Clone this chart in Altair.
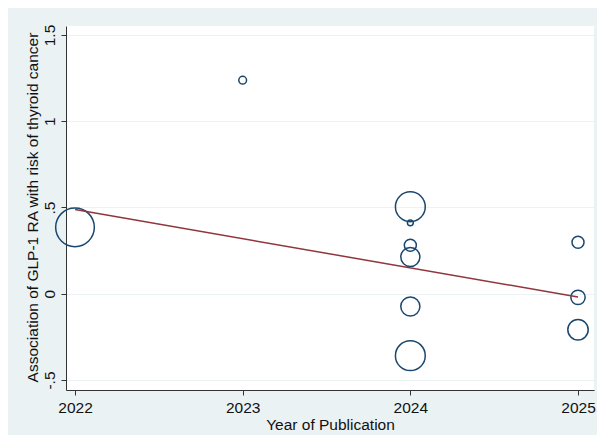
import altair as alt
import pandas as pd

# ---- data ----
years = [2022, 2023, 2024, 2024, 2024, 2024, 2024, 2024, 2025, 2025, 2025]
effects = [0.385, 1.238, 0.504, 0.411, 0.281, 0.213, -0.074, -0.359, 0.298, -0.021, -0.209]
weights = [29.9, 1.2, 17.8, 0.7, 2.9, 7.3, 7.3, 17.8, 2.9, 4.1, 8.3]

fit_years = [2022, 2025]
fit_values = [0.488, -0.019]

x_ticks = [2022, 2023, 2024, 2025]
y_ticks = [-0.5, 0, 0.5, 1, 1.5]
y_tick_labels = ["-.5", "0", ".5", "1", "1.5"]

x_title = "Year of Publication"
y_title = "Association of GLP-1 RA with risk of thyroid cancer"

pts = pd.DataFrame({"year": years, "effect": effects, "weight": weights})
fit = pd.DataFrame({"year": fit_years, "effect": fit_values})

FONT = "Liberation Sans"
FS = 15.5
NAVY = "#1A476F"
MAROON = "#90353B"
BG = "#EAF2F3"
AX = "#333333"

y_label_expr = " : ".join(
    [f"datum.value == {v} ? '{l}'" for v, l in zip(y_ticks, y_tick_labels)]
) + " : datum.label"

x_scale = alt.Scale(domain=[2021.9463, 2025.0954], nice=False, zero=False)
y_scale = alt.Scale(domain=[-0.558, 1.552], nice=False, zero=False)

x_axis = alt.Axis(
    values=x_ticks, format="d", title=x_title, grid=False,
    domainColor=AX, tickColor=AX, tickSize=5, labelPadding=5,
    labelFont=FONT, labelFontSize=FS, labelColor="#111111",
    titleFont=FONT, titleFontSize=FS, titleFontWeight="normal", titleColor="#111111",
    titleX=264, titleY=39, titleBaseline="alphabetic", titleAlign="center",
    labelFlush=False, labelOverlap=False,
)
y_axis = alt.Axis(
    values=y_ticks, title=y_title, grid=True, gridColor=BG, gridWidth=1,
    domainColor=AX, tickColor=AX, tickSize=5, labelPadding=4,
    labelAngle=270, labelAlign="center", labelBaseline="bottom",
    labelExpr=y_label_expr,
    labelFont=FONT, labelFontSize=FS, labelColor="#111111",
    titleFont=FONT, titleFontSize=FS, titleFontWeight="normal", titleColor="#111111",
    titleAngle=270, titleX=-29, titleY=181, titleBaseline="alphabetic", titleAlign="center",
    labelFlush=False, labelOverlap=False,
)

bubbles = alt.Chart(pts).mark_point(
    shape="circle", filled=False, color=NAVY, strokeWidth=1.5, opacity=1
).encode(
    x=alt.X("year:Q", scale=x_scale, axis=x_axis),
    y=alt.Y("effect:Q", scale=y_scale, axis=y_axis),
    size=alt.Size("weight:Q", scale=alt.Scale(domain=[0, 30], range=[0, 1500], zero=True), legend=None),
)

line = alt.Chart(fit).mark_line(color=MAROON, strokeWidth=1.5).encode(
    x=alt.X("year:Q", scale=x_scale),
    y=alt.Y("effect:Q", scale=y_scale),
)

chart = alt.layer(bubbles, line).properties(
    width=528, height=364,
    background=BG,
    padding={"left": 58, "top": 18, "right": 3, "bottom": 45},
    autosize=alt.AutoSizeParams(type="none"),
).configure_view(stroke=None, fill="white")

chart.save("out.html", embed_options={"renderer": "svg", "actions": False})
